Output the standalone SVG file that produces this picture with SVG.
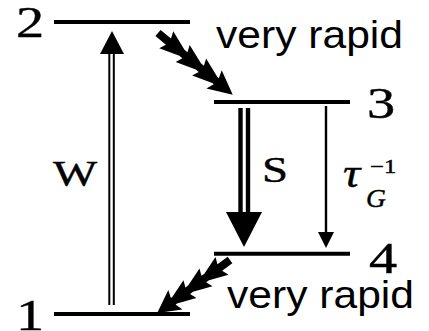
<svg xmlns="http://www.w3.org/2000/svg" width="429" height="331" viewBox="0 0 429 331">
<style>
.lvl{stroke:#000;stroke-width:4;fill:none}
.ser{font-family:"Liberation Serif","Times New Roman",serif;fill:#000;stroke:#000;stroke-width:0.4}
.num{font-size:44px}
.let{font-size:36px}
.san{font-family:"Liberation Sans",Arial,sans-serif;font-size:39px;fill:#000}
.thin{stroke:#000;stroke-width:2;fill:none}
.thick{stroke:#000;stroke-width:4.4;fill:none}
</style>
<defs>
<path id="wavy" d="M0,-4 L14,-4 L11,-11 L32,-4 L36,-4 L33,-11 L54,-4 L58,-4 L55,-11 L76,-4 L78,-4 L75,-12 L100,0 L75,12 L78,4 L76,4 L55,11 L58,4 L54,4 L33,11 L36,4 L32,4 L11,11 L14,4 L0,4 Z" fill="#000"/>
</defs>
<g id="level2"><line class="lvl" x1="54" y1="22" x2="190" y2="22"/><text class="ser num" transform="translate(16,37) scale(1.28,1)">2</text></g>
<g id="level3"><line class="lvl" x1="214" y1="102" x2="350" y2="102"/><text class="ser num" transform="translate(367,118) scale(1.28,1)">3</text></g>
<g id="level4"><line class="lvl" x1="214" y1="253.7" x2="350" y2="253.7"/><text class="ser num" transform="translate(369,273) scale(1.28,1)">4</text></g>
<g id="level1"><line class="lvl" x1="54" y1="314" x2="190" y2="314"/><text class="ser num" transform="translate(16,330) scale(1.28,1)">1</text></g>
<g id="connectors">
<g id="pumpW">
<line class="thin" x1="109.3" y1="52" x2="109.3" y2="305"/>
<line class="thin" x1="113.8" y1="52" x2="113.8" y2="305"/>
<polygon points="100,54 124,54 112,31" fill="#000"/>
</g>
<g id="stimS">
<line class="thick" x1="240.5" y1="108" x2="240.5" y2="214"/>
<line class="thick" x1="248" y1="108" x2="248" y2="214"/>
<polygon points="226,212 262,212 244,247" fill="#000"/>
</g>
<g id="tauG">
<line class="thin" x1="326" y1="106" x2="326" y2="234" style="stroke-width:2.4"/>
<polygon points="318,232 334,232 326,248" fill="#000"/>
</g>
<use href="#wavy" transform="translate(158,33) rotate(39.6) scale(0.97,1)"/>
<use href="#wavy" transform="translate(230,260) rotate(144) scale(0.9,1)"/>
</g>
<g id="labels">
<text class="ser let" transform="translate(53,186) scale(1.3,1)">W</text>
<text class="ser let" transform="translate(262,182) scale(1.3,1)">S</text>
<text class="ser" font-style="italic" font-size="40" transform="translate(343,187) scale(1.2,1)">τ</text>
<text class="ser" font-size="19" transform="translate(370,173) scale(1.3,1)">−1</text>
<text class="ser" font-style="italic" font-size="25" transform="translate(366,207) scale(1.1,1)">G</text>
<text class="san" x="216" y="48" textLength="187" lengthAdjust="spacingAndGlyphs">very rapid</text>
<text class="san" x="227" y="308" font-size="37" textLength="187" lengthAdjust="spacingAndGlyphs">very rapid</text>
</g>
</svg>
